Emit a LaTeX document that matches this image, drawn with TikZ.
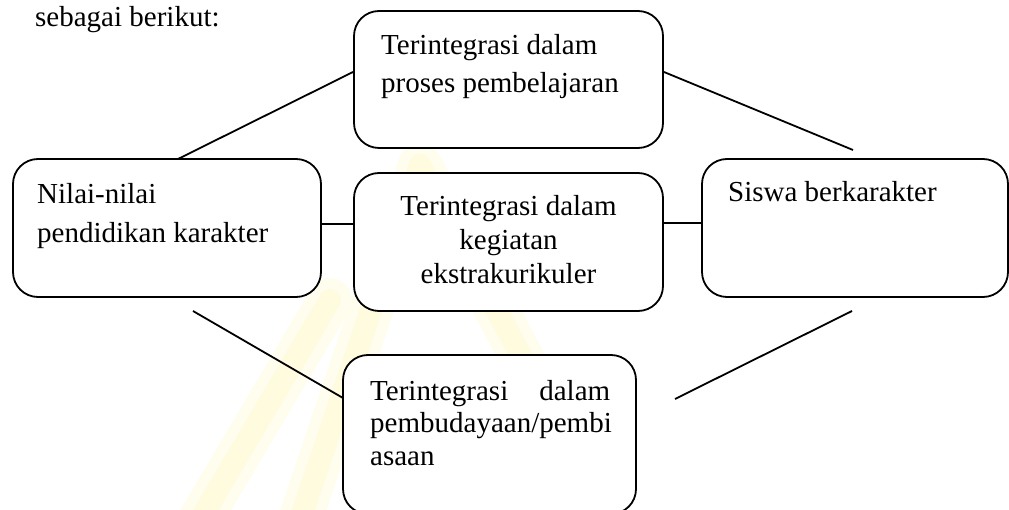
\documentclass[tikz,border=0pt]{standalone}
\usepackage{fontspec}
\setmainfont{Liberation Serif}
\begin{document}
\begin{tikzpicture}[x=1pt,y=-1pt,
  box/.style={draw=black,line width=1.8pt,rounded corners=25pt,rectangle,inner sep=0pt,fill=white},
  conn/.style={draw=black,line width=1.8pt},
  txt/.style={inner sep=0pt,font=\fontsize{29}{37.5}\selectfont},
  wmsoft/.style={line width=44pt,color={rgb,255:red,255;green,253;blue,238},line cap=round,line join=round},
  wm/.style={line width=22pt,color={rgb,255:red,255;green,251;blue,222},line cap=round,line join=round}]
\useasboundingbox (0,0) rectangle (1009,510);
\clip (0,0) rectangle (1009,510);
% faint watermark
\draw[wmsoft] (300,520) -- (420,165) -- (560,430);
\draw[wmsoft] (200,520) -- (330,300);
\draw[wm] (300,520) -- (420,165) -- (560,430);
\draw[wm] (200,520) -- (330,300);
% heading
\node[txt,anchor=base west] (head) at (35,27) {sebagai berikut:};
% boxes
\node[box,minimum width=309pt,minimum height=137pt] (top) at (508.5,79.5) {};
\node[box,minimum width=308pt,minimum height=138pt] (left) at (167,228) {};
\node[box,minimum width=309pt,minimum height=138pt] (mid) at (508.5,242) {};
\node[box,minimum width=306pt,minimum height=138pt] (right) at (855,228) {};
\node[box,minimum width=293pt,minimum height=159pt] (bot) at (489.5,434.5) {};
% texts
\node[txt,anchor=base west,text width=275pt,align=flush left] (ttop) at (381,55) {Terintegrasi dalam\\proses pembelajaran};
\node[txt,anchor=base west,text width=275pt,align=flush left,font=\fontsize{29}{38.5}\selectfont] (tleft) at (37,204) {Nilai-nilai\\pendidikan karakter};
\node[txt,anchor=base,text width=280pt,align=flush center,font=\fontsize{29}{34}\selectfont] (tmid) at (508.5,216) {Terintegrasi dalam\\kegiatan\\ekstrakurikuler};
\node[txt,anchor=base west] (tright) at (728,202) {Siswa berkarakter};
\node[txt,anchor=base west,text width=240pt,align=flush left,font=\fontsize{29}{32.5}\selectfont] (tbot) at (370,400) {Terintegrasi\hfill dalam\\pembudayaan/pembi\\asaan};
% connector free ends
\coordinate (c1) at (178,159);
\coordinate (c2) at (353,72);
\coordinate (c3) at (664,72);
\coordinate (c4) at (853,150);
\coordinate (c5) at (193,311);
\coordinate (c6) at (343,398);
\coordinate (c7) at (675,399);
\coordinate (c8) at (852,311);
% connectors
\draw[conn] (c1) -- (c2);
\draw[conn] (c3) -- (c4);
\draw[conn] (left.east |- 0,224) -- (mid.west |- 0,224);
\draw[conn] (mid.east |- 0,223) -- (right.west |- 0,223);
\draw[conn] (c5) -- (c6);
\draw[conn] (c7) -- (c8);
\end{tikzpicture}
\end{document}
